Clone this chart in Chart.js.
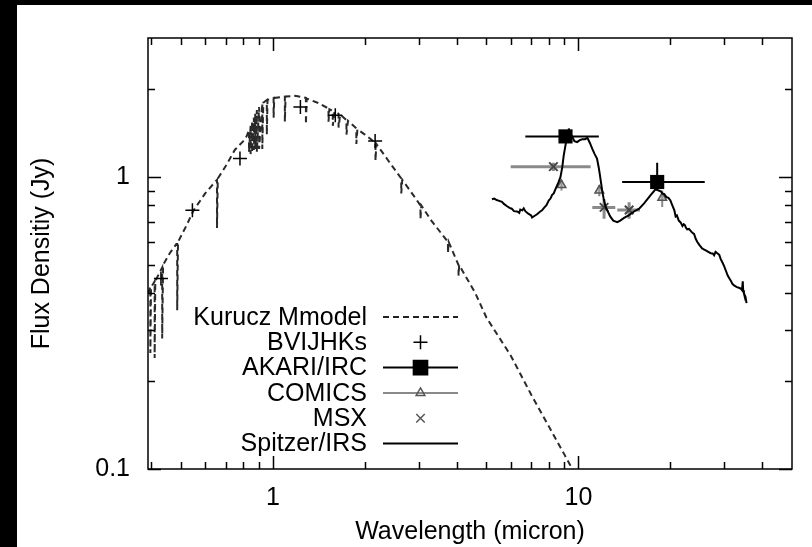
<!DOCTYPE html>
<html>
<head>
<meta charset="utf-8">
<script src="https://cdn.jsdelivr.net/npm/chart.js@4.4.0/dist/chart.umd.min.js"></script>
<style>
  html, body { margin: 0; padding: 0; background: #000; }
  #wrap { position: absolute; left: 17px; top: 5px; width: 795px; height: 542px; background: #fff; }
</style>
</head>
<body>
<div id="wrap"><canvas id="sed"></canvas></div>
<script>
// Kurucz model (continuum with hydrogen absorption lines), [micron, Jy]
const kuruczModel = [
  [0.39, 0.40], [0.397, 0.42], [0.397, 0.25], [0.399, 0.42], [0.405, 0.43], [0.410, 0.44],
  [0.410, 0.24], [0.412, 0.44], [0.425, 0.47], [0.434, 0.49], [0.434, 0.28], [0.437, 0.50],
  [0.46, 0.55], [0.483, 0.59], [0.486, 0.59], [0.486, 0.35], [0.489, 0.60], [0.52, 0.68],
  [0.55, 0.77], [0.60, 0.88], [0.650, 0.97], [0.656, 0.98], [0.656, 0.67], [0.660, 0.99],
  [0.70, 1.09], [0.75, 1.24], [0.80, 1.33], [0.82, 1.38], [0.835, 1.45], [0.835, 1.22],
  [0.845, 1.50], [0.845, 1.20], [0.855, 1.55], [0.855, 1.22], [0.866, 1.60], [0.866, 1.24],
  [0.875, 1.65], [0.875, 1.25], [0.886, 1.70], [0.886, 1.22], [0.901, 1.74], [0.901, 1.25],
  [0.923, 1.79], [0.923, 1.25], [0.93, 1.80], [0.955, 1.84], [0.955, 1.40], [0.96, 1.84],
  [1.005, 1.87], [1.005, 1.60], [1.01, 1.87], [1.094, 1.89], [1.094, 1.55], [1.10, 1.89],
  [1.18, 1.90], [1.282, 1.87], [1.282, 1.52], [1.29, 1.86], [1.40, 1.80], [1.52, 1.72],
  [1.52, 1.55], [1.53, 1.71], [1.57, 1.69], [1.57, 1.50], [1.59, 1.68], [1.64, 1.65],
  [1.64, 1.48], [1.66, 1.64], [1.74, 1.57], [1.74, 1.40], [1.76, 1.56], [1.875, 1.47],
  [1.875, 1.30], [1.89, 1.46], [2.0, 1.40], [2.166, 1.31], [2.166, 1.14], [2.18, 1.30],
  [2.4, 1.13], [2.63, 0.99], [2.63, 0.88], [2.65, 0.98], [2.9, 0.86], [3.04, 0.80],
  [3.04, 0.72], [3.06, 0.80], [3.3, 0.71], [3.74, 0.60], [3.74, 0.55], [3.76, 0.60],
  [4.05, 0.50], [4.05, 0.46], [4.07, 0.50], [4.6, 0.40], [5.0, 0.33], [6.0, 0.245],
  [7.0, 0.18], [8.0, 0.14], [9.0, 0.112], [9.6, 0.099]
];

// BVIJHKs photometry
const photWave = [0.43, 0.545, 0.78, 1.23, 1.60, 2.16];
const photFlux = [0.45, 0.77, 1.16, 1.74, 1.63, 1.33];

// AKARI/IRC S9W, L18W
const akariWave = [9.07, 18.1];
const akariFlux = [1.38, 0.963];
const akariXlo = [6.7, 13.9];
const akariXhi = [11.66, 25.9];
const akariYlo = [1.35, 0.90];
const akariYhi = [1.41, 1.12];

// COMICS
const comicsWave = [8.8, 11.7, 18.8];
const comicsFlux = [0.94, 0.90, 0.85];
const comicsYlo = [0.90, 0.86, 0.79];
const comicsYhi = [0.98, 0.94, 0.90];

// MSX
const msxWave = [8.28, 12.13, 14.65];
const msxFlux = [1.087, 0.788, 0.772];
const msxXlo = [6.0, 11.1, 13.4];
const msxXhi = [10.96, 13.2, 15.9];
const msxYlo = [1.05, 0.72, 0.72];
const msxYhi = [1.12, 0.84, 0.82];

// Spitzer/IRS spectrum
const irsSpectrum = [
  [5.21, 0.84], [5.3, 0.845], [5.4, 0.835], [5.5, 0.83], [5.62, 0.823], [5.7, 0.81],
  [5.84, 0.795], [5.95, 0.785], [6.05, 0.78], [6.15, 0.765], [6.3, 0.763], [6.4, 0.755],
  [6.45, 0.775], [6.55, 0.77], [6.62, 0.782], [6.7, 0.765], [6.85, 0.75], [7.0, 0.74],
  [7.05, 0.728], [7.15, 0.735], [7.3, 0.745], [7.5, 0.763], [7.6, 0.77], [7.75, 0.79],
  [7.85, 0.80], [8.0, 0.833], [8.1, 0.845], [8.2, 0.87], [8.3, 0.88], [8.41, 0.911],
  [8.6, 0.96], [8.73, 1.0], [8.85, 1.08], [8.95, 1.188], [9.14, 1.348], [9.25, 1.40],
  [9.30, 1.47], [9.36, 1.42], [9.53, 1.38], [9.7, 1.33], [9.9, 1.32], [10.1, 1.34],
  [10.3, 1.35], [10.5, 1.35], [10.7, 1.365], [10.9, 1.31], [11.1, 1.25], [11.3, 1.20],
  [11.5, 1.158], [11.65, 1.08], [11.75, 1.02], [11.96, 0.899], [12.1, 0.84], [12.27, 0.792],
  [12.7, 0.734], [13.0, 0.71], [13.4, 0.701], [13.7, 0.71], [14.1, 0.725], [14.6, 0.74],
  [15.2, 0.763], [15.8, 0.78], [16.4, 0.813], [17.2, 0.866], [17.9, 0.911], [18.3, 0.90],
  [18.6, 0.895], [18.8, 0.88], [19.1, 0.875], [19.4, 0.855], [19.7, 0.85], [20.0, 0.833],
  [20.2, 0.81], [20.4, 0.79], [20.6, 0.77], [20.8, 0.734], [21.0, 0.74], [21.3, 0.71],
  [21.6, 0.70], [21.9, 0.68], [22.1, 0.69], [22.3, 0.685], [22.5, 0.67], [22.7, 0.663],
  [23.0, 0.665], [23.3, 0.655], [23.6, 0.645], [23.9, 0.639], [24.2, 0.615], [24.5, 0.60],
  [24.9, 0.585], [25.4, 0.57], [25.8, 0.565], [26.2, 0.56], [26.6, 0.555], [27.1, 0.549],
  [27.5, 0.548], [27.8, 0.54], [28.1, 0.555], [28.4, 0.55], [28.9, 0.542], [29.2, 0.525],
  [29.6, 0.51], [30.0, 0.495], [30.4, 0.477], [30.8, 0.46], [31.2, 0.45], [31.6, 0.44],
  [31.9, 0.431], [32.4, 0.425], [33.0, 0.42], [33.5, 0.418], [34.0, 0.415], [34.3, 0.41],
  [34.5, 0.44], [34.6, 0.41], [34.8, 0.40], [35.2, 0.39], [35.5, 0.37]
];

// axis ticks
const xTicks = [0.4, 0.5, 0.6, 0.7, 0.8, 0.9, 1, 2, 3, 4, 5, 6, 7, 8, 9, 10, 20, 30, 40];
const xLabels = [1, 10];
const yTicks = [0.1, 0.2, 0.3, 0.4, 0.5, 0.6, 0.7, 0.8, 0.9, 1, 2];
const yLabels = [0.1, 1];

const FONT = '"Liberation Sans", Arial, sans-serif';
const GRAY = '#8a8a8a';

function pts(xs, ys) { return xs.map((x, i) => ({ x: x, y: ys[i] })); }
function pairs(arr) { return arr.map(p => ({ x: p[0], y: p[1] })); }
// horizontal / vertical error segments separated by gaps
function xBars(xs, ys, lo, hi) {
  const out = [];
  xs.forEach((x, i) => { out.push({ x: lo[i], y: ys[i] }, { x: hi[i], y: ys[i] }, { x: x, y: null }); });
  return out;
}
function yBars(xs, lo, hi) {
  const out = [];
  xs.forEach((x, i) => { out.push({ x: x, y: lo[i] }, { x: x, y: hi[i] }, { x: x, y: null }); });
  return out;
}

const lineSet = (data, color, width, order, extra) => Object.assign({
  data: data, showLine: true, borderColor: color, borderWidth: width,
  pointRadius: 0, spanGaps: false, order: order, tension: 0
}, extra || {});

// inward tick marks and frame, gnuplot style
const frameTicks = {
  id: 'frameTicks',
  afterDatasetsDraw(chart) {
    const { ctx, chartArea: a, scales } = chart;
    ctx.save();
    ctx.strokeStyle = '#000';
    ctx.lineWidth = 1.5;
    ctx.strokeRect(a.left, a.top, a.right - a.left, a.bottom - a.top);
    ctx.beginPath();
    xTicks.forEach(v => {
      const px = Math.round(scales.x.getPixelForValue(v)) + 0.5;
      const len = xLabels.includes(v) ? 13 : 7;
      ctx.moveTo(px, a.bottom); ctx.lineTo(px, a.bottom - len);
      ctx.moveTo(px, a.top); ctx.lineTo(px, a.top + len);
    });
    yTicks.forEach(v => {
      const py = Math.round(scales.y.getPixelForValue(v)) + 0.5;
      const len = yLabels.includes(v) ? 13 : 7;
      ctx.moveTo(a.left, py); ctx.lineTo(a.left + len, py);
      ctx.moveTo(a.right, py); ctx.lineTo(a.right - len, py);
    });
    ctx.stroke();
    ctx.restore();
  }
};

// key: labels right-aligned, sample to the right
const keyBox = {
  id: 'keyBox',
  afterDraw(chart) {
    const ctx = chart.ctx;
    const rows = [
      { label: 'Kurucz Mmodel', line: '#222', dash: [6, 4], width: 2 },
      { label: 'BVIJHKs', point: 'cross', color: '#000', radius: 7 },
      { label: 'AKARI/IRC', line: '#000', width: 2, point: 'rect', color: '#000', fill: '#000', radius: 10 },
      { label: 'COMICS', line: GRAY, width: 2, point: 'triangle', color: '#555', radius: 5 },
      { label: 'MSX', point: 'crossRot', color: '#555', radius: 6 },
      { label: 'Spitzer/IRS', line: '#000', width: 2 }
    ];
    ctx.save();
    ctx.font = '25px ' + FONT;
    ctx.textAlign = 'right';
    ctx.textBaseline = 'middle';
    rows.forEach((r, i) => {
      const y = 312 + i * 25.3;
      ctx.fillStyle = '#000';
      ctx.fillText(r.label, 350, y + 1);
      if (r.line) {
        ctx.strokeStyle = r.line;
        ctx.lineWidth = r.width;
        ctx.setLineDash(r.dash || []);
        ctx.beginPath(); ctx.moveTo(366, y); ctx.lineTo(441, y); ctx.stroke();
        ctx.setLineDash([]);
      }
      if (r.point) {
        ctx.strokeStyle = r.color;
        ctx.fillStyle = r.fill || 'rgba(0,0,0,0)';
        ctx.lineWidth = 1.5;
        Chart.helpers.drawPoint(ctx, { pointStyle: r.point, radius: r.radius, borderWidth: 1.5, rotation: 0 }, 403.5, y);
      }
    });
    ctx.restore();
  }
};

new Chart(document.getElementById('sed'), {
  type: 'scatter',
  data: {
    datasets: [
      lineSet(pairs(kuruczModel), '#2a2a2a', 2, 9, { borderDash: [6, 4] }),
      { data: pts(photWave, photFlux), pointStyle: 'cross', pointRadius: 7, borderColor: '#000', borderWidth: 1.5, order: 8 },
      lineSet(xBars(akariWave, akariFlux, akariXlo, akariXhi), '#000', 2, 7),
      lineSet(yBars(akariWave, akariYlo, akariYhi), '#000', 2, 7),
      { data: pts(akariWave, akariFlux), pointStyle: 'rect', pointRadius: 10, backgroundColor: '#000', borderColor: '#000', borderWidth: 0, order: 6 },
      lineSet(yBars(comicsWave, comicsYlo, comicsYhi), GRAY, 2, 5),
      { data: pts(comicsWave, comicsFlux), pointStyle: 'triangle', pointRadius: 5, backgroundColor: 'rgba(160,160,160,0.5)', borderColor: '#555', borderWidth: 1.5, order: 4 },
      lineSet(xBars(msxWave, msxFlux, msxXlo, msxXhi), GRAY, 3, 3),
      lineSet(yBars(msxWave, msxYlo, msxYhi), GRAY, 3, 3),
      { data: pts(msxWave, msxFlux), pointStyle: 'crossRot', pointRadius: 6, borderColor: '#444', borderWidth: 2, order: 2 },
      lineSet(pairs(irsSpectrum), '#000', 2, 1)
    ]
  },
  options: {
    responsive: true,
    maintainAspectRatio: false,
    animation: false,
    layout: { padding: { top: 13, right: 20, left: 0, bottom: 0 } },
    plugins: { legend: { display: false }, tooltip: { enabled: false } },
    scales: {
      x: {
        type: 'logarithmic',
        min: 0.39,
        max: 50,
        grid: { display: false, drawTicks: false },
        border: { display: false },
        afterBuildTicks: s => { s.ticks = xTicks.map(v => ({ value: v })); },
        afterFit: s => { s.height = 78; },
        ticks: {
          autoSkip: false, maxRotation: 0, padding: 14, color: '#000',
          font: { family: FONT, size: 25 },
          callback: v => xLabels.includes(v) ? String(v) : ''
        },
        title: { display: true, text: 'Wavelength (micron)', color: '#000', font: { family: FONT, size: 25 }, padding: { top: 0, bottom: 0 } }
      },
      y: {
        type: 'logarithmic',
        min: 0.1,
        max: 3,
        grid: { display: false, drawTicks: false },
        border: { display: false },
        afterBuildTicks: s => { s.ticks = yTicks.map(v => ({ value: v })); },
        afterFit: s => { s.width = 131; },
        ticks: {
          autoSkip: false, padding: 18, color: '#000',
          font: { family: FONT, size: 25 },
          callback: v => yLabels.includes(v) ? String(v) : ''
        },
        title: { display: true, text: 'Flux Densitiy (Jy)', color: '#000', font: { family: FONT, size: 25 }, padding: { top: 10, bottom: 0 } }
      }
    }
  },
  plugins: [frameTicks, keyBox]
});
</script>
</body>
</html>
